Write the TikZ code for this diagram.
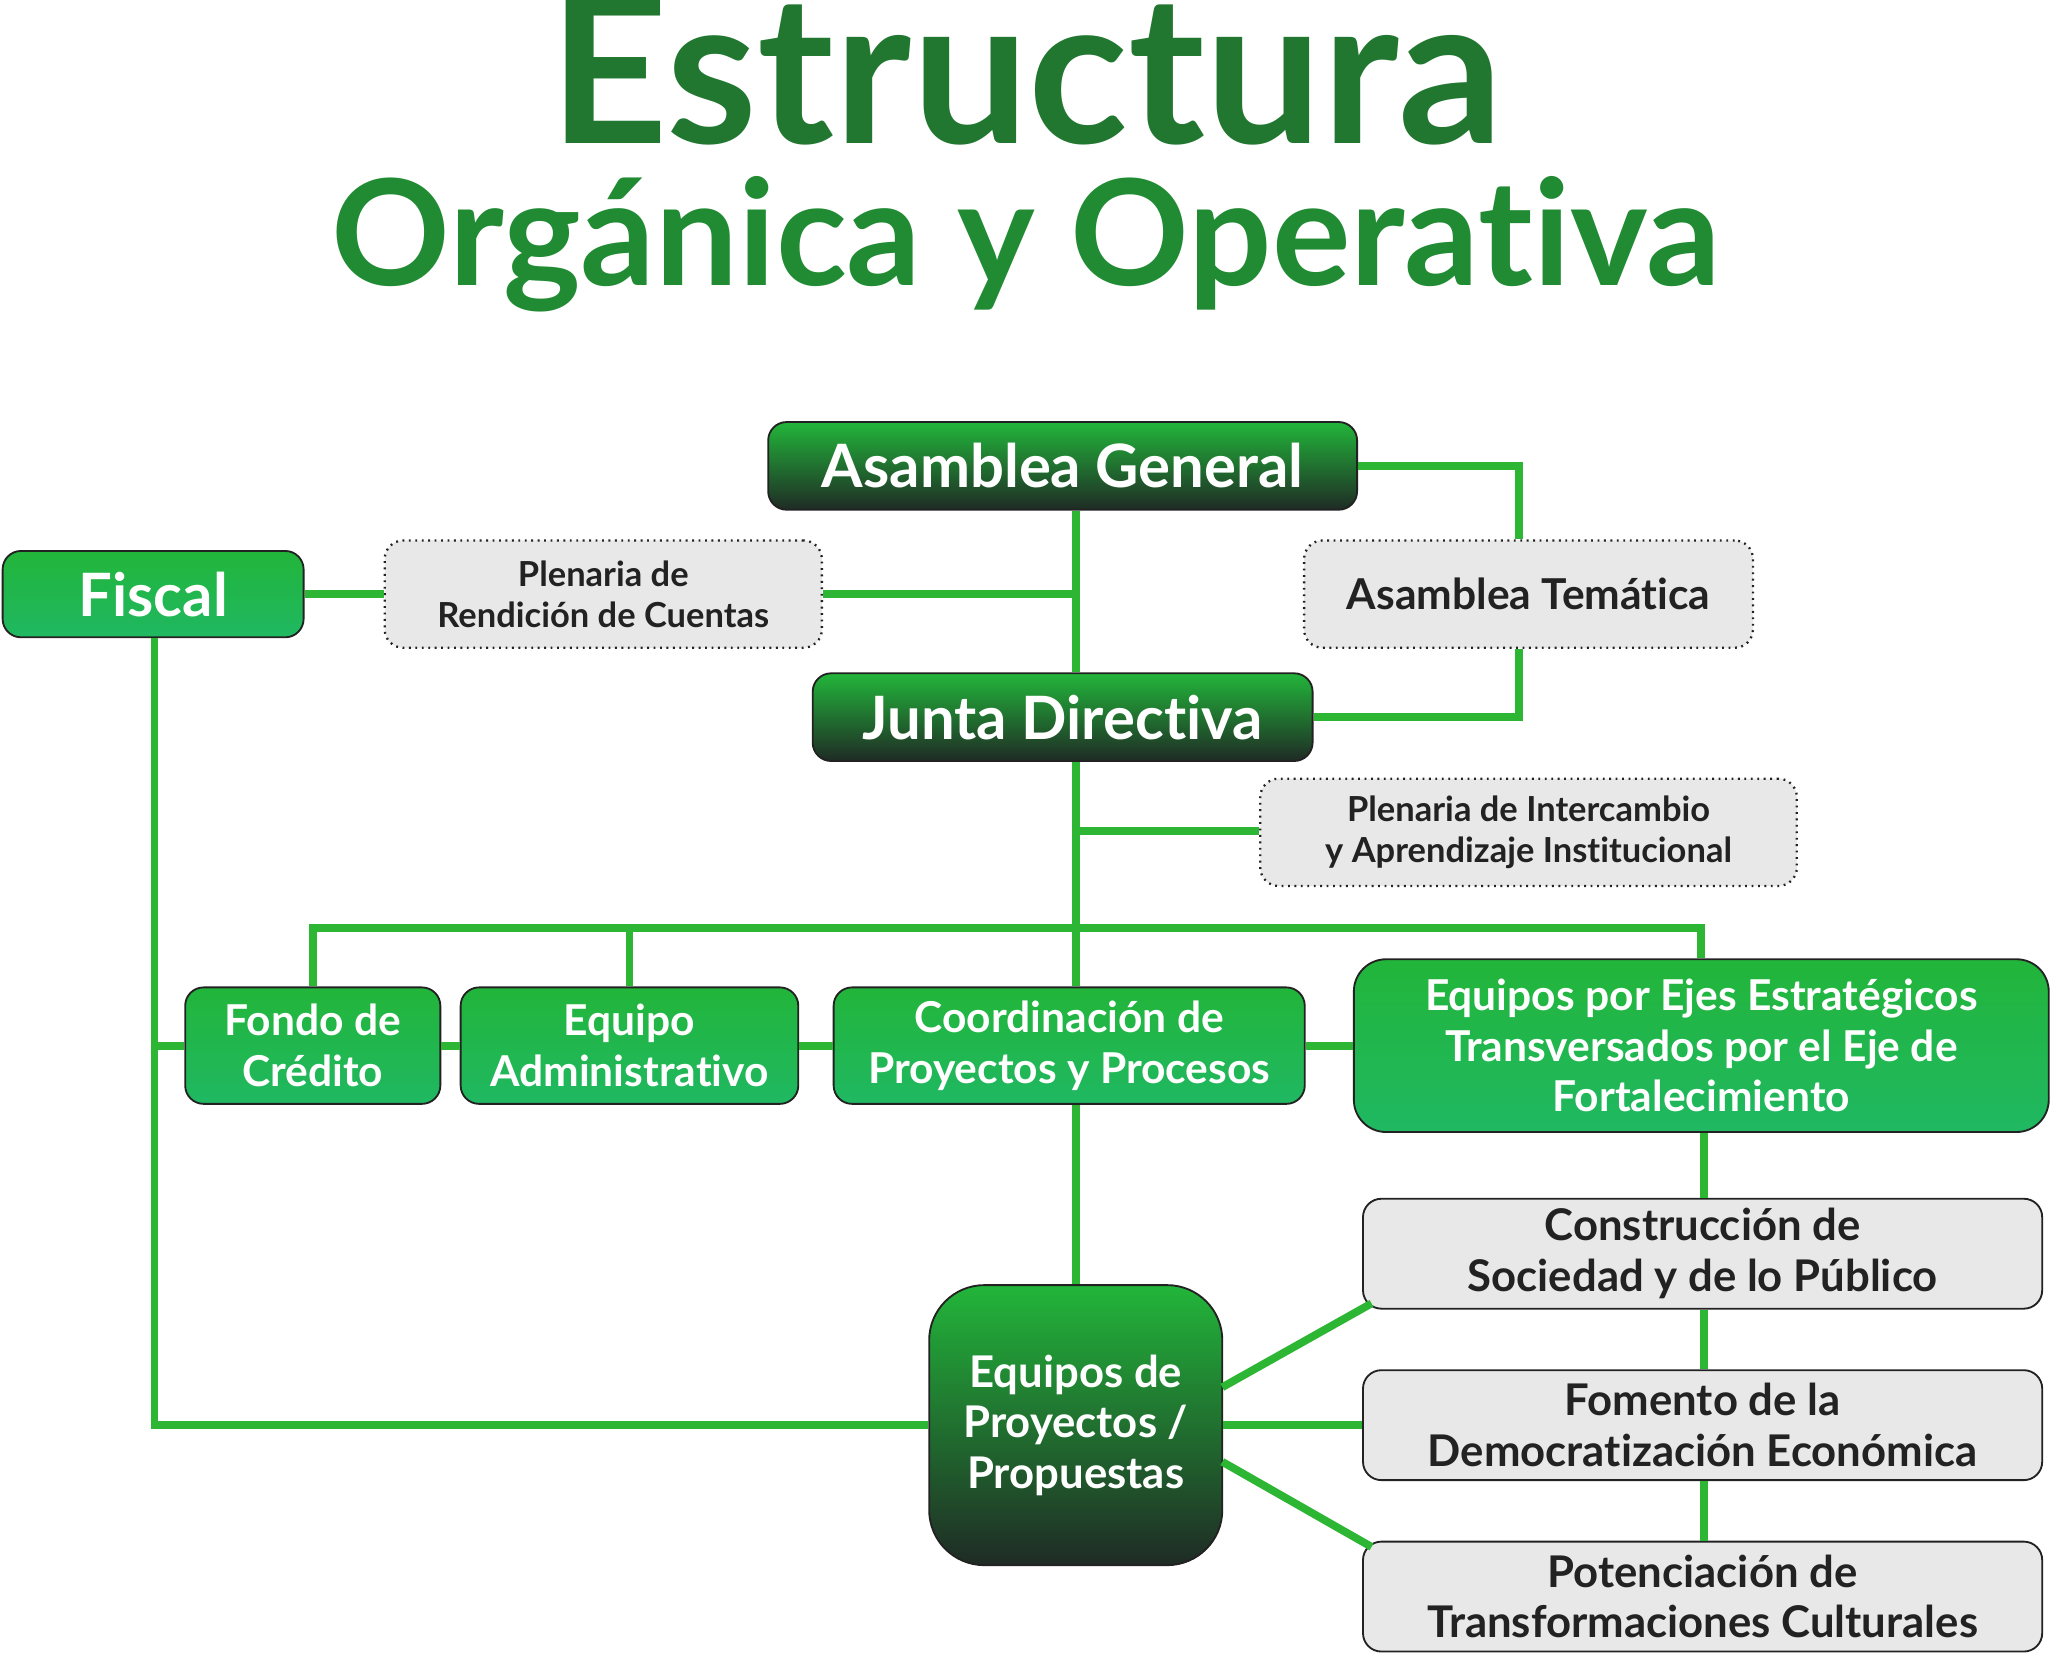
\documentclass[tikz,border=0pt]{standalone}
\usepackage{fontspec}
\setmainfont{Lato}[Ligatures=NoCommon]
\usetikzlibrary{calc}
\definecolor{lgreen}{HTML}{2CB634}
\definecolor{bgreen}{HTML}{22B53A}
\definecolor{dgreen}{HTML}{1F2B25}
\definecolor{tgreen}{HTML}{20B862}
\definecolor{boxgray}{HTML}{E8E8E8}
\definecolor{ink}{HTML}{222222}
\tikzset{
  box/.style={rounded corners=8pt, draw=ink, line width=0.8pt, align=center, font=\bfseries, inner sep=0pt},
  dark/.style={box, top color=bgreen, bottom color=dgreen, text=white},
  light/.style={box, top color=bgreen, bottom color=tgreen, text=white},
  grey/.style={box, fill=boxgray, text=ink},
  plen/.style={grey, dotted, line width=1pt},
  link/.style={lgreen, line width=3.4pt},
  heading/.style={anchor=base, inner sep=0pt, font=\bfseries},
}
\begin{document}
\begin{tikzpicture}[x=0.02cm, y=-0.02cm]
\useasboundingbox (0,0) rectangle (1568,1263);

% title
\node[heading] (t1) at (784,110) {\fontsize{90}{92}\selectfont\color{bgreen!55!dgreen}Estructura};
\node[heading] (t2) at (784,218) {\fontsize{64}{66}\selectfont\color{bgreen!70!dgreen}Orgánica y Operativa};

% nodes
\node[dark, minimum width=450*0.02cm, minimum height=67*0.02cm, font=\fontsize{26}{30}\selectfont\bfseries] (ag) at (812,356) {Asamblea General};
\node[light, minimum width=230*0.02cm, minimum height=66*0.02cm, font=\fontsize{26}{30}\selectfont\bfseries] (fis) at (117,454) {Fiscal};
\node[plen, minimum width=334*0.02cm, minimum height=82*0.02cm, font=\fontsize{15}{18}\selectfont\bfseries] (prc) at (461,454) {Plenaria de\\Rendición de Cuentas};
\node[plen, minimum width=343*0.02cm, minimum height=82*0.02cm, font=\fontsize{18.5}{22}\selectfont\bfseries] (tem) at (1168,454) {Asamblea Temática};
\node[dark, minimum width=382*0.02cm, minimum height=67*0.02cm, font=\fontsize{26}{30}\selectfont\bfseries] (jd) at (812,548) {Junta Directiva};
\node[plen, minimum width=410*0.02cm, minimum height=82*0.02cm, font=\fontsize{15}{18}\selectfont\bfseries] (pia) at (1168,636) {Plenaria de Intercambio\\y Aprendizaje Institucional};
\node[light, minimum width=195*0.02cm, minimum height=89*0.02cm, font=\fontsize{18.5}{22}\selectfont\bfseries] (fc) at (239,799) {Fondo de\\Crédito};
\node[light, minimum width=258*0.02cm, minimum height=89*0.02cm, font=\fontsize{18.5}{22}\selectfont\bfseries] (ea) at (481,799) {Equipo\\Administrativo};
\node[light, minimum width=360*0.02cm, minimum height=89*0.02cm, font=\fontsize{18.5}{22}\selectfont\bfseries] (cpp) at (817,799) {Coordinación de\\Proyectos y Procesos};
\node[light, rounded corners=14pt, minimum width=531*0.02cm, minimum height=132*0.02cm, font=\fontsize{18.5}{22}\selectfont\bfseries] (eje) at (1300,799) {Equipos por Ejes Estratégicos\\Transversados por el Eje de\\Fortalecimiento};
\node[grey, minimum width=519*0.02cm, minimum height=84*0.02cm, font=\fontsize{19}{22}\selectfont\bfseries] (csp) at (1301,958) {Construcción de\\Sociedad y de lo Público};
\node[grey, minimum width=519*0.02cm, minimum height=84*0.02cm, font=\fontsize{19}{22}\selectfont\bfseries] (fde) at (1301,1089) {Fomento de la\\Democratización Económica};
\node[grey, minimum width=519*0.02cm, minimum height=84*0.02cm, font=\fontsize{19}{22}\selectfont\bfseries] (ptc) at (1301,1220) {Potenciación de\\Transformaciones Culturales};
\node[dark, rounded corners=24pt, minimum width=224*0.02cm, minimum height=214*0.02cm, font=\fontsize{19}{22}\selectfont\bfseries] (epp) at (822,1089) {Equipos de\\Proyectos /\\Propuestas};

\coordinate (fcorner) at (118,1089);

% connectors
\draw[link] (ag.south -| 822,0) -- (jd.north -| 822,0);
\draw[link] (jd.south -| 822,0) -- (cpp.north -| 822,0);
\draw[link] (cpp.south -| 822,0) -- (epp.north -| 822,0);
\draw[link] (ag.east) -| (tem.north -| 1161,0);
\draw[link] (tem.south -| 1161,0) |- (jd.east);
\draw[link] (fis.east) -- (prc.west);
\draw[link] (prc.east) -- (822,454);
\draw[link] (822,635) -- (pia.west |- 0,635);
\draw[link] (fc.north) |- (eje.north |- 0,709) -- (eje.north);
\draw[link] (ea.north) -- (ea.north |- 0,709);
\draw[link] (118,799) -- (fc.west);
\draw[link] (fc.east) -- (ea.west);
\draw[link] (ea.east) -- (cpp.west);
\draw[link] (cpp.east) -- (eje.west |- 0,799);
\draw[link] (fis.south -| 118,0) -- (fcorner) -- (epp.west);
\draw[link] (eje.south -| 1302,0) -- (csp.north -| 1302,0);
\draw[link] (csp.south -| 1302,0) -- (fde.north -| 1302,0);
\draw[link] (fde.south -| 1302,0) -- (ptc.north -| 1302,0);
\draw[link] (934,1060) -- (1048,996);
\draw[link] (epp.east) -- (fde.west);
\draw[link] (934,1117) -- (1048,1182);
\end{tikzpicture}
\end{document}
